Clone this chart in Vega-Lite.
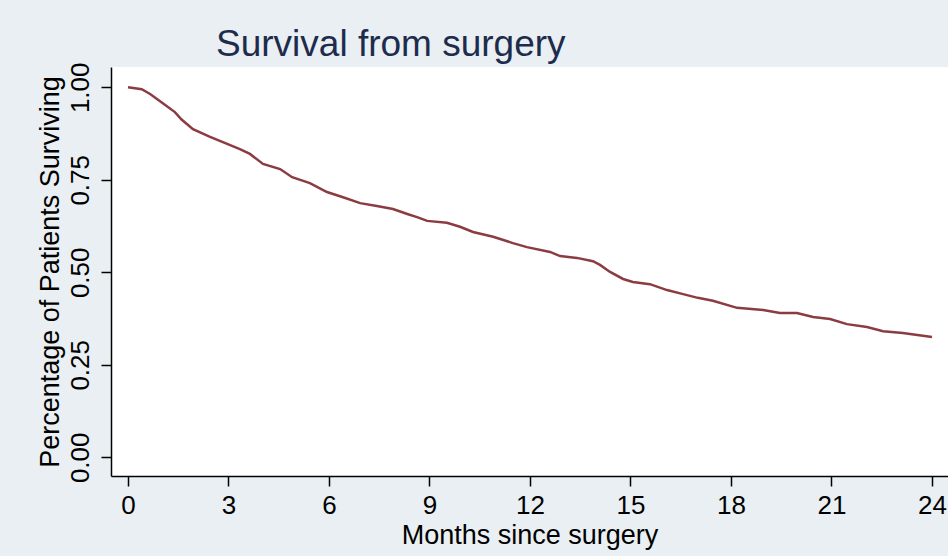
{
  "$schema": "https://vega.github.io/schema/vega-lite/v6.json",
  "autosize": "none",
  "width": 837,
  "height": 409,
  "padding": {"left": 111, "top": 67, "right": 0, "bottom": 80},
  "background": "#e9eff2",
  "title": {
    "text": "Survival from surgery",
    "anchor": "start",
    "frame": "group",
    "dx": 105,
    "dy": 43,
    "baseline": "alphabetic",
    "offset": 12,
    "font": "Liberation Sans",
    "fontSize": 37,
    "fontWeight": "normal",
    "color": "#1d2c4c"
  },
  "config": {
    "view": {"fill": "white", "stroke": null},
    "axis": {
      "grid": false,
      "domainColor": "#000000",
      "domainWidth": 1.5,
      "tickColor": "#000000",
      "tickWidth": 1.5,
      "tickSize": 10,
      "labelFont": "Liberation Sans",
      "labelFontSize": 26,
      "labelColor": "#000000",
      "titleFont": "Liberation Sans",
      "titleFontSize": 27,
      "titleFontWeight": "normal",
      "titleColor": "#000000"
    }
  },
  "data": {
    "values": [
      {"m": 0.0, "s": 1.000},
      {"m": 0.41, "s": 0.995},
      {"m": 0.66, "s": 0.982},
      {"m": 1.04, "s": 0.957},
      {"m": 1.40, "s": 0.933},
      {"m": 1.60, "s": 0.913},
      {"m": 1.94, "s": 0.887},
      {"m": 2.45, "s": 0.866},
      {"m": 2.96, "s": 0.847},
      {"m": 3.34, "s": 0.833},
      {"m": 3.64, "s": 0.820},
      {"m": 4.03, "s": 0.793},
      {"m": 4.54, "s": 0.779},
      {"m": 4.90, "s": 0.757},
      {"m": 5.43, "s": 0.741},
      {"m": 5.94, "s": 0.717},
      {"m": 6.42, "s": 0.703},
      {"m": 6.93, "s": 0.687},
      {"m": 7.43, "s": 0.679},
      {"m": 7.91, "s": 0.671},
      {"m": 8.36, "s": 0.657},
      {"m": 8.63, "s": 0.649},
      {"m": 8.93, "s": 0.639},
      {"m": 9.52, "s": 0.634},
      {"m": 9.91, "s": 0.623},
      {"m": 10.30, "s": 0.609},
      {"m": 10.90, "s": 0.596},
      {"m": 11.49, "s": 0.579},
      {"m": 11.91, "s": 0.568},
      {"m": 12.60, "s": 0.555},
      {"m": 12.90, "s": 0.544},
      {"m": 13.40, "s": 0.539},
      {"m": 13.88, "s": 0.530},
      {"m": 14.09, "s": 0.520},
      {"m": 14.39, "s": 0.501},
      {"m": 14.78, "s": 0.482},
      {"m": 15.07, "s": 0.474},
      {"m": 15.58, "s": 0.468},
      {"m": 16.09, "s": 0.452},
      {"m": 16.57, "s": 0.441},
      {"m": 17.01, "s": 0.431},
      {"m": 17.46, "s": 0.423},
      {"m": 18.18, "s": 0.404},
      {"m": 18.96, "s": 0.398},
      {"m": 19.46, "s": 0.390},
      {"m": 19.97, "s": 0.390},
      {"m": 20.45, "s": 0.379},
      {"m": 20.96, "s": 0.374},
      {"m": 21.46, "s": 0.360},
      {"m": 22.06, "s": 0.352},
      {"m": 22.54, "s": 0.341},
      {"m": 23.13, "s": 0.336},
      {"m": 24.00, "s": 0.325}
    ]
  },
  "mark": {"type": "line", "color": "#8b3c41", "strokeWidth": 2.5, "interpolate": "linear"},
  "encoding": {
    "x": {
      "field": "m",
      "type": "quantitative",
      "scale": {"domain": [-0.507, 24.478], "nice": false, "zero": false},
      "axis": {
        "title": "Months since surgery",
        "values": [0, 3, 6, 9, 12, 15, 18, 21, 24],
        "format": "d",
        "labelPadding": 6,
        "titlePadding": 4,
        "labelFlush": false
      }
    },
    "y": {
      "field": "s",
      "type": "quantitative",
      "scale": {"domain": [-0.0505, 1.0549], "nice": false, "zero": false},
      "axis": {
        "title": "Percentage of Patients Surviving",
        "values": [0, 0.25, 0.5, 0.75, 1],
        "format": ".2f",
        "labelAngle": -90,
        "labelAlign": "center",
        "labelBaseline": "bottom",
        "labelPadding": 8,
        "titlePadding": 3,
        "labelFlush": false
      }
    }
  }
}
